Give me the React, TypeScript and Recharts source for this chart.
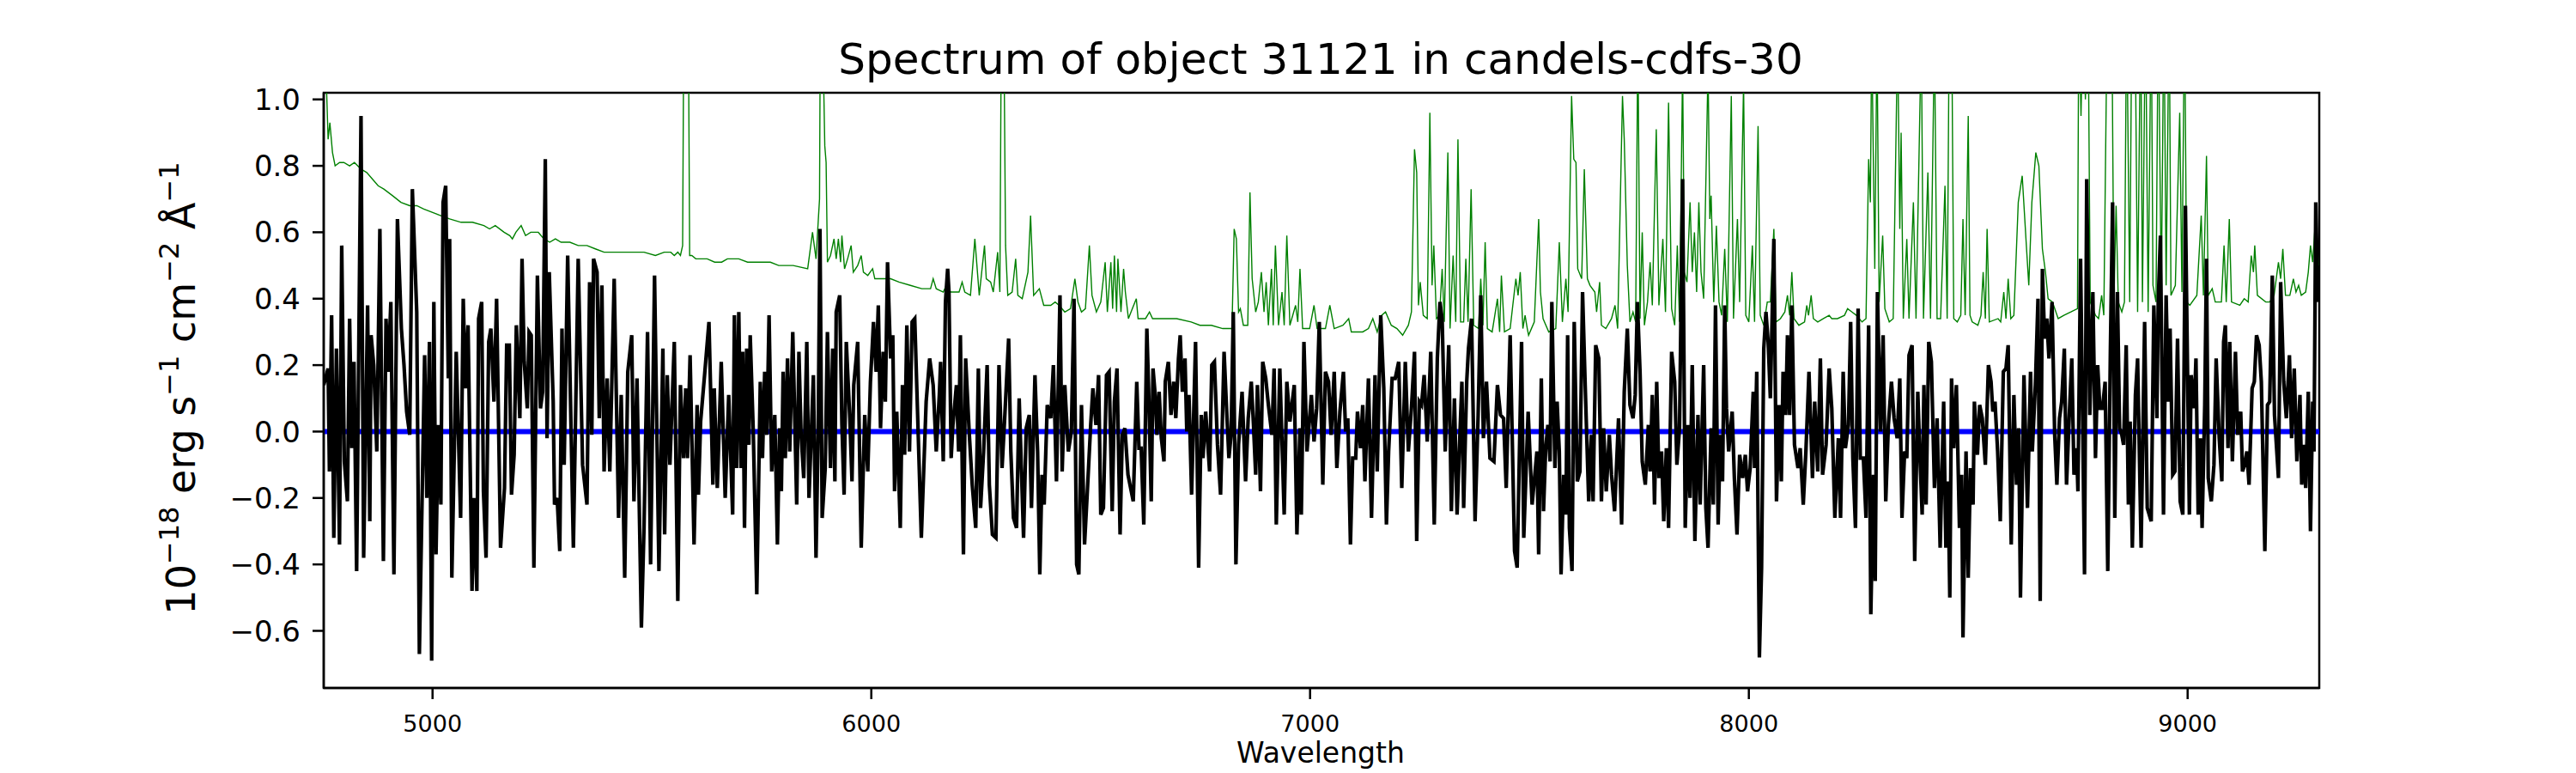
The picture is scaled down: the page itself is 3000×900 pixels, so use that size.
import React from 'react';
import { LineChart, Line, XAxis, YAxis, ReferenceArea } from 'recharts';

const specWave = [
  4752, 4762, 4765, 4770, 4775, 4781, 4788, 4793, 4799, 4806,
  4811, 4816, 4821, 4827, 4837, 4843, 4852, 4857, 4860, 4866,
  4873, 4880, 4888, 4894, 4899, 4905, 4912, 4920, 4929, 4935,
  4941, 4948, 4954, 4964, 4970, 4982, 4987, 4993, 4998, 5003,
  5008, 5013, 5019, 5024, 5030, 5036, 5039, 5044, 5054, 5064,
  5070, 5075, 5081, 5090, 5094, 5101, 5105, 5112, 5116, 5122,
  5128, 5133, 5140, 5146, 5155, 5164, 5169, 5175, 5180, 5186,
  5191, 5199, 5204, 5209, 5216, 5220, 5225, 5231, 5239, 5246,
  5251, 5257, 5261, 5266, 5275, 5278, 5284, 5290, 5295, 5300,
  5308, 5321, 5332, 5342, 5352, 5358, 5363, 5367, 5375, 5380,
  5386, 5391, 5398, 5404, 5414, 5424, 5430, 5438, 5445, 5454,
  5459, 5466, 5476, 5482, 5490, 5497, 5506, 5516, 5525, 5529,
  5535, 5541, 5551, 5559, 5565, 5572, 5577, 5581, 5587, 5596,
  5603, 5606, 5611, 5620, 5630, 5639, 5642, 5649, 5658,
  5667, 5675, 5684, 5688, 5693, 5698, 5703, 5707, 5711, 5716,
  5721, 5724, 5731, 5739, 5747, 5752, 5757, 5762, 5767, 5773,
  5780, 5786, 5791, 5795, 5799, 5804, 5809, 5814, 5821, 5830,
  5835, 5840, 5846, 5853, 5858, 5868, 5874, 5879, 5883, 5888,
  5895, 5900, 5907, 5912, 5917, 5920, 5928, 5933, 5938, 5943,
  5951, 5956, 5960, 5969, 5977, 5985, 5992, 5998, 6005, 6011,
  6016, 6021, 6027, 6032, 6037, 6044, 6049, 6053, 6058, 6066,
  6071, 6076, 6081, 6087, 6093, 6099, 6104, 6114, 6125, 6133,
  6141, 6148, 6155, 6158, 6164, 6169, 6174, 6177, 6182, 6186,
  6194, 6199, 6203, 6210, 6215, 6223, 6230, 6238, 6244, 6249,
  6256, 6264, 6269, 6276, 6284, 6291, 6298, 6304, 6313, 6318,
  6324, 6331, 6337, 6347, 6353, 6360, 6365, 6373, 6379, 6384,
  6389, 6394, 6401, 6409, 6415, 6422, 6430, 6435, 6441, 6449,
  6456, 6462, 6468, 6473, 6479, 6486, 6492, 6500, 6505, 6512,
  6518, 6523, 6529, 6536, 6542, 6549, 6554, 6560, 6567, 6572,
  6578, 6585,
  6597, 6605, 6610, 6615, 6621, 6628, 6632, 6638, 6642, 6647,
  6651, 6656, 6661, 6667, 6670, 6677, 6683, 6689, 6694, 6700,
  6704, 6709, 6715, 6719, 6724, 6730, 6739, 6746, 6752, 6756,
  6762, 6771, 6776, 6782, 6789, 6796, 6804, 6810, 6815, 6820,
  6825, 6831, 6837, 6845, 6853, 6859, 6866, 6871, 6876, 6880,
  6887, 6892, 6899, 6905, 6913, 6918, 6923, 6931, 6941, 6947,
  6954, 6964, 6970, 6977, 6980, 6986, 6993, 7003, 7009, 7015,
  7021, 7029, 7035, 7042, 7048, 7055, 7061, 7068, 7076, 7081,
  7086, 7092, 7097, 7104, 7108, 7115, 7120, 7125, 7133, 7140,
  7148, 7153, 7161, 7168, 7174, 7179, 7187, 7194, 7202, 7209,
  7217, 7224, 7231, 7238, 7243, 7249, 7254, 7260, 7267, 7275,
  7283, 7290, 7296, 7301, 7308, 7316, 7322, 7329, 7335, 7342,
  7346, 7350, 7357, 7361, 7368, 7376, 7383, 7389, 7395, 7402,
  7410, 7419, 7427, 7434, 7441, 7447, 7456, 7466, 7472, 7482,
  7487, 7497, 7506, 7517,
  7521, 7527, 7532, 7537, 7542, 7547, 7551, 7558, 7563, 7568,
  7572, 7578, 7583, 7587, 7591, 7597, 7602, 7609, 7615, 7621,
  7627, 7635, 7641, 7645, 7651, 7658, 7664, 7669, 7675, 7682,
  7687, 7694, 7703, 7710, 7716, 7723, 7729, 7736, 7741, 7746,
  7752, 7757, 7764, 7771, 7775, 7780, 7785, 7790, 7795, 7801,
  7806, 7812, 7817, 7824, 7831, 7836, 7842, 7849, 7855, 7861,
  7866, 7871, 7877, 7884, 7889, 7897, 7902, 7907, 7914, 7919,
  7924, 7930, 7935, 7940, 7945, 7949, 7954, 7962, 7967, 7973,
  7979, 7986, 7992, 7997, 8003, 8010, 8013, 8018, 8024, 8029,
  8034, 8039, 8044, 8049, 8057, 8063, 8069, 8074, 8078, 8084,
  8088, 8093, 8098, 8104, 8112, 8117, 8124, 8130, 8137, 8145,
  8150, 8157, 8163, 8168, 8176, 8183, 8189, 8196, 8204, 8209,
  8215, 8220, 8227, 8232, 8237, 8243, 8249, 8254, 8261, 8267,
  8273, 8278, 8284, 8288, 8293, 8300, 8306, 8312, 8318, 8325,
  8331, 8338, 8344, 8349, 8355, 8360, 8365, 8372, 8378, 8385,
  8390, 8395, 8399, 8404, 8410, 8416, 8423, 8429, 8436,
  8444, 8449, 8454, 8458, 8462, 8467, 8473, 8480, 8485, 8488,
  8495, 8500, 8505, 8511, 8514, 8521, 8526, 8532, 8539, 8546,
  8552, 8556, 8561, 8567, 8573, 8580, 8586, 8591, 8598, 8604,
  8610, 8615, 8619, 8627, 8635, 8642, 8646, 8653, 8659, 8664,
  8669, 8674, 8679, 8684, 8691, 8697, 8702, 8708, 8713, 8719,
  8724, 8730, 8736, 8741, 8747, 8750, 8756, 8761, 8765, 8770,
  8777, 8784, 8790, 8795, 8800, 8806, 8812, 8818, 8824, 8829,
  8834, 8840, 8845, 8850, 8854, 8860, 8865, 8869, 8874, 8881,
  8886, 8894, 8902, 8908, 8917, 8923, 8930, 8933, 8938, 8945,
  8951, 8956, 8960, 8966, 8971, 8977, 8983, 8989, 8995, 9004,
  9008, 9015, 9019, 9024, 9029, 9033, 9039, 9043, 9047, 9054,
  9060, 9065, 9072, 9078, 9082, 9086, 9092, 9096, 9102, 9109,
  9114, 9121, 9125, 9130, 9135, 9140, 9147, 9152, 9157, 9163,
  9168, 9176, 9182, 9187, 9193, 9198, 9207, 9212, 9219, 9225,
  9232, 9237, 9243, 9249, 9256, 9260, 9266, 9269, 9275, 9280,
  9285, 9288, 9292, 9297,
];

const specFlux = [
  0.14, 0.19, -0.12, 0.35, -0.32, 0.25, -0.34, 0.56, -0.09, -0.21,
  0.34, -0.05, 0.21, -0.42, 0.95, -0.38, 0.38, -0.27, 0.29, 0.20,
  -0.06, 0.61, -0.39, 0.34, 0.18, 0.39, -0.43, 0.64, 0.31, 0.20,
  0.06, -0.01, 0.73, 0.36, -0.67, 0.23, -0.20, 0.27, -0.69, 0.39,
  -0.37, 0.02, -0.22, 0.69, 0.74, 0.16, 0.58, -0.44, 0.24, -0.26,
  0.40, 0.13, 0.32, -0.48, -0.20, -0.48, 0.34, 0.39, -0.18, -0.38,
  0.27, 0.31, 0.09, 0.40, -0.35, -0.17, 0.26, 0.26, -0.19, -0.07,
  0.32, 0.04, 0.52, 0.21, 0.07, 0.30, 0.29, -0.41, 0.47, 0.07,
  0.12, 0.82, -0.02, 0.48, 0.09, -0.22, -0.20, -0.36, 0.31, -0.10,
  0.53, -0.35, 0.52, -0.10, -0.22, 0.45, -0.01, 0.52, 0.48, 0.04,
  0.44, -0.12, 0.16, -0.12, 0.46, -0.26, 0.11, -0.44, 0.18, 0.29,
  -0.21, 0.16, -0.59, -0.29, 0.30, -0.40, 0.47, -0.42, 0.25, -0.31,
  0.17, -0.10, 0.27, -0.51, 0.14, -0.08, 0.13, -0.08, 0.23, -0.34,
  0.08, -0.19, 0.03, 0.17, 0.33, -0.16, 0.13, -0.17, 0.21,
  -0.20, 0.11, -0.25, 0.35, -0.11, 0.36, -0.11, 0.24, -0.29, 0.25,
  -0.04, 0.29, 0.00, -0.49, 0.15, -0.08, 0.18, -0.01, 0.35, -0.12,
  0.05, -0.34, 0.01, -0.18, 0.18, -0.08, 0.22, -0.06, 0.30, -0.22,
  0.24, -0.01, -0.14, 0.27, -0.20, 0.17, -0.38, 0.01, 0.61, -0.26,
  -0.11, 0.30, -0.11, 0.25, -0.15, 0.36, 0.41, 0.02, -0.19, 0.27,
  0.04, -0.15, 0.14, 0.27, -0.35, 0.05, -0.12, 0.15, 0.33, 0.18,
  0.38, 0.01, 0.24, 0.09, 0.51, 0.22, 0.29, -0.18, 0.06, -0.29,
  0.14, -0.07, 0.32, -0.06, 0.33, 0.34, 0.12, -0.32, 0.09, 0.22,
  0.14, -0.06, 0.11, 0.21, -0.09, 0.39, 0.49, 0.42, -0.08, 0.02,
  0.14, -0.06, 0.29, -0.37, 0.22, 0.00, -0.16, -0.29, 0.19, -0.23,
  -0.06, 0.20, -0.16, -0.31, -0.32, 0.20, -0.11, 0.04, 0.28, -0.06,
  -0.26, -0.29, 0.10, -0.32, 0.01, 0.05, -0.23, 0.17, -0.06, -0.43,
  -0.13, -0.22, 0.08, 0.04, 0.20, -0.15, 0.41, -0.12, 0.14, -0.06,
  0.00, 0.40, -0.40, -0.43, 0.08, -0.34, -0.19, 0.02, 0.13, 0.02,
  0.17, -0.25, -0.23, 0.17, 0.18, -0.24, 0.09, 0.19, -0.31, -0.01,
  0.01, -0.13,
  -0.21, 0.15, -0.05, -0.05, -0.28, 0.31, 0.13, -0.21, 0.19, 0.11,
  -0.01, 0.12, -0.02, -0.09, 0.15, 0.21, 0.05, 0.15, 0.04, 0.22,
  0.29, 0.12, 0.22, 0.00, 0.11, -0.19, 0.27, -0.41, 0.05, -0.08,
  0.06, -0.12, 0.20, 0.21, -0.04, -0.19, 0.24, 0.06, -0.08, -0.01,
  0.36, -0.40, -0.04, 0.12, -0.15, 0.04, 0.15, 0.02, -0.13, 0.14,
  -0.18, 0.21, 0.16, 0.08, -0.01, 0.19, -0.28, 0.19, -0.25, 0.15,
  0.03, 0.14, -0.31, 0.01, -0.25, 0.27, -0.06, 0.11, -0.03, 0.07,
  0.33, -0.16, 0.18, 0.15, -0.01, 0.18, -0.11, 0.06, 0.18, 0.00,
  0.04, -0.34, -0.08, -0.08, 0.06, -0.05, 0.08, -0.15, 0.16, -0.26,
  0.17, -0.12, 0.35, 0.13, -0.28, -0.06, 0.16, 0.16, 0.21, -0.17,
  0.21, -0.06, 0.07, 0.24, -0.33, 0.09, 0.08, 0.17, -0.03, 0.24,
  -0.28, 0.22, 0.39, 0.34, -0.06, 0.26, -0.24, 0.10, -0.25, 0.01,
  0.15, -0.23, 0.15, 0.25, 0.34, -0.27, 0.05, 0.41, -0.02, 0.15,
  -0.08, -0.09, 0.14, 0.05, 0.04, -0.17, 0.29, -0.36, -0.41, 0.27,
  -0.32, 0.06, -0.22, -0.06,
  -0.37, 0.16, -0.24, -0.05, 0.02, -0.09, 0.39, -0.11, 0.09, -0.06,
  -0.43, -0.13, -0.25, 0.29, -0.29, -0.42, 0.33, -0.15, -0.12, 0.42,
  0.14, -0.21, -0.01, -0.21, 0.26, 0.22, -0.21, 0.01, -0.18, -0.01,
  -0.13, -0.24, 0.04, -0.28, 0.12, 0.31, 0.08, 0.04, 0.11, 0.39,
  0.18, -0.09, -0.16, 0.02, -0.12, 0.11, -0.22, 0.15, -0.14, -0.06,
  -0.27, -0.05, -0.29, 0.24, 0.15, -0.10, 0.01, 0.76, -0.29, 0.02,
  -0.20, 0.20, -0.33, 0.05, -0.22, 0.20, -0.23, -0.35, 0.01, -0.22,
  0.38, -0.28, -0.01, -0.15, 0.38, 0.07, -0.06, 0.06, -0.14, -0.31,
  -0.07, -0.14, -0.07, -0.18, -0.11, 0.12, -0.11, 0.18, -0.68, -0.41,
  0.25, 0.36, 0.27, 0.10, 0.58, -0.21, 0.08, -0.15, 0.18, 0.05,
  0.29, 0.05, 0.38, -0.04, -0.11, -0.05, -0.22, -0.06, 0.18, -0.14,
  0.09, -0.12, 0.22, -0.13, -0.04, 0.19, 0.07, -0.26, -0.02, -0.26,
  0.18, -0.05, 0.02, 0.33, -0.08, -0.29, 0.37, -0.08, -0.08, -0.26,
  0.32, -0.55, -0.13, -0.45, 0.42, 0.00, 0.29, -0.21, 0.02, 0.15,
  0.04, -0.02, 0.16, -0.26, -0.06, -0.08, 0.23, 0.26, -0.39, 0.12,
  -0.08, -0.25, 0.14, -0.22, 0.27, 0.21, -0.17, 0.04, -0.35,
  0.09, -0.35, -0.15, -0.50, 0.16, -0.05, 0.14, -0.29, -0.13, -0.62,
  -0.06, -0.44, -0.11, -0.22, 0.09, -0.07, 0.08, 0.04, -0.10, 0.20,
  0.15, 0.06, 0.09, -0.06, -0.27, 0.18, 0.19, 0.26, -0.34, 0.11,
  -0.16, 0.01, -0.50, 0.17, -0.23, 0.18, -0.06, 0.14, 0.40, -0.51,
  0.49, 0.28, 0.34, 0.22, 0.39, -0.01, -0.16, 0.04, 0.09, 0.25,
  -0.16, 0.04, 0.22, -0.13, -0.05, -0.18, 0.52, 0.01, -0.43, 0.76,
  0.05, 0.42, -0.08, 0.20, 0.07, 0.07, 0.15, -0.42, 0.25, 0.69,
  -0.26, 0.42, 0.01, -0.01, -0.04, 0.26, -0.22, 0.03, -0.35, 0.11,
  0.22, -0.35, 0.33, -0.23, -0.27, 0.38, 0.04, 0.39, 0.59, -0.25,
  0.41, 0.09, 0.31, -0.13, -0.12, 0.28, -0.21, -0.25, 0.68, -0.25,
  0.17, 0.07, 0.22, -0.25, -0.02, -0.29, 0.08, 0.52, -0.14, -0.21,
  -0.10, 0.22, -0.02, -0.15, 0.27, 0.32, -0.05, 0.27, -0.09, 0.24,
  -0.01, 0.06, -0.12, -0.10, -0.06, -0.16, 0.13, 0.15, 0.29, 0.26,
  0.15, -0.36, 0.08, 0.09, 0.47, 0.05, -0.14, 0.45, 0.15, 0.04,
  0.23, -0.02, 0.19, -0.09, 0.11, -0.16, -0.04, -0.17, 0.12, -0.30,
  0.09, -0.06, 0.69, 0.39,
];

// error / contamination spectrum (green), sky lines run off the top
const errWave = [
  4752, 4758, 4762, 4766, 4772, 4778, 4788, 4798, 4811, 4822,
  4837, 4850, 4863, 4876, 4889, 4909, 4928, 4948, 4964, 4980,
  4999, 5019, 5039, 5065, 5091, 5117, 5130, 5143, 5163, 5176,
  5182, 5190, 5202, 5212, 5224, 5241, 5254, 5267, 5280, 5293,
  5313, 5332, 5352, 5371, 5391, 5411, 5430, 5456, 5482, 5508,
  5528, 5543, 5551, 5559, 5565, 5570, 5574, 5578, 5582, 5586,
  5591, 5600, 5611, 5626, 5643,
  5659, 5672, 5698, 5718, 5744, 5770, 5789, 5822, 5855, 5866,
  5874, 5882, 5884, 5888, 5894, 5897, 5900, 5907, 5915, 5920,
  5925, 5930, 5933, 5939, 5946, 5954, 5959, 5969, 5977, 5982,
  5992, 6003, 6008, 6024, 6044, 6063, 6089, 6115, 6135, 6141,
  6148, 6164, 6171, 6181, 6200, 6207, 6213, 6226, 6236, 6246,
  6258, 6262, 6272, 6278, 6288, 6293, 6297, 6301, 6306, 6311,
  6321, 6329, 6334, 6344, 6357, 6363, 6370, 6383, 6393, 6409,
  6419, 6428, 6441, 6454, 6464, 6471, 6479, 6488, 6497, 6503,
  6513, 6523, 6533, 6538, 6546, 6550, 6554, 6559, 6562, 6569,
  6575,
  6579, 6586, 6595, 6604, 6608, 6625, 6634, 6641, 6667, 6696,
  6729, 6749, 6775, 6801, 6822, 6827, 6832, 6837, 6841, 6848,
  6858, 6863, 6868, 6876, 6882, 6889, 6895, 6900, 6905, 6912,
  6916, 6921, 6928, 6936, 6941, 6947, 6954, 6967, 6972, 6977,
  6983, 6999, 7009, 7016, 7035, 7045, 7055, 7075, 7088, 7094,
  7120, 7133, 7143, 7153, 7163, 7172, 7185, 7198, 7211, 7224,
  7231, 7238, 7243, 7247, 7251, 7258, 7267, 7273, 7278, 7282,
  7288, 7295, 7301, 7306, 7314, 7319, 7326, 7332, 7337, 7343,
  7350, 7355, 7360, 7367, 7373, 7384, 7389, 7394, 7399, 7404,
  7415, 7427, 7432, 7436, 7443, 7456, 7462, 7469, 7474, 7479,
  7485, 7490, 7495,
  7498, 7511, 7521, 7525, 7531, 7544, 7560, 7568, 7575, 7583,
  7588, 7596, 7601, 7606, 7610, 7619, 7625, 7632, 7638, 7649,
  7653, 7660, 7664, 7674, 7687, 7695, 7701, 7712, 7716, 7723,
  7729, 7736, 7742, 7747, 7752, 7757, 7762, 7769, 7775, 7780,
  7789, 7795, 7804, 7810, 7817, 7824, 7831, 7837, 7842, 7849,
  7853, 7859, 7866, 7871, 7876, 7881, 7886, 7891, 7897, 7907,
  7911, 7914, 7920, 7926, 7932, 7938, 7945, 7951, 7960, 7965,
  7974, 7979, 7988, 7993, 8000, 8008, 8013, 8021, 8026, 8034,
  8042, 8049, 8057, 8062, 8072, 8082, 8088, 8093, 8098, 8103,
  8114, 8127, 8132, 8136, 8142, 8147, 8157, 8170, 8183, 8189,
  8202, 8218, 8225, 8235, 8245, 8258, 8267, 8273, 8277, 8280,
  8287, 8292, 8297, 8305, 8310, 8320, 8329, 8339, 8344, 8347,
  8352, 8360, 8365, 8375, 8381, 8393, 8398, 8408, 8414, 8423,
  8429, 8437,
  8447, 8452, 8457, 8462, 8467, 8475, 8483, 8488, 8493, 8500,
  8504, 8509, 8522, 8529, 8534, 8539, 8543, 8548, 8568, 8574,
  8581, 8586, 8591, 8597, 8604, 8614, 8623, 8632, 8638, 8645,
  8654, 8661, 8669, 8676, 8682, 8692, 8705, 8718, 8734, 8749,
  8752, 8757, 8762, 8767, 8773, 8778, 8790, 8797, 8804, 8809,
  8817, 8822, 8827, 8832, 8837, 8842, 8850, 8856, 8861, 8868,
  8873, 8880, 8886, 8893, 8897, 8904, 8910, 8917, 8921, 8928,
  8933, 8940, 8946, 8951, 8958, 8962, 8972, 8982, 8987, 8993,
  8998, 9005, 9021, 9031, 9036, 9043, 9047, 9056, 9063, 9077,
  9083, 9088, 9095, 9100, 9119, 9129, 9138, 9145, 9150, 9153,
  9159, 9178, 9187, 9197, 9207, 9212, 9217, 9223, 9233, 9241,
  9247, 9253, 9259, 9269, 9275, 9280, 9285, 9292, 9298,
];

const errFlux = [
  1.15, 1.05, 0.88, 0.93, 0.84, 0.80, 0.81, 0.81, 0.80, 0.81,
  0.79, 0.78, 0.76, 0.74, 0.73, 0.71, 0.69, 0.68, 0.68, 0.67,
  0.66, 0.65, 0.64, 0.63, 0.63, 0.62, 0.61, 0.62, 0.60, 0.59,
  0.58, 0.60, 0.62, 0.59, 0.60, 0.60, 0.58, 0.57, 0.58, 0.57,
  0.57, 0.56, 0.56, 0.55, 0.54, 0.54, 0.54, 0.54, 0.54, 0.53,
  0.54, 0.54, 0.53, 0.54, 0.53, 0.56, 1.6, 2.0, 1.5, 0.53,
  0.53, 0.52, 0.52, 0.52, 0.51,
  0.51, 0.52, 0.52, 0.51, 0.51, 0.51, 0.50, 0.50, 0.49, 0.60,
  0.52, 0.70, 1.3, 1.3, 0.86, 0.81, 0.51, 0.53, 0.58, 0.52,
  0.58, 0.51, 0.59, 0.49, 0.52, 0.56, 0.48, 0.50, 0.53, 0.48,
  0.47, 0.49, 0.46, 0.46, 0.46, 0.45, 0.44, 0.43, 0.43, 0.46,
  0.43, 0.42, 0.44, 0.42, 0.42, 0.45, 0.42, 0.41, 0.58, 0.41,
  0.56, 0.46, 0.45, 0.42, 0.54, 0.42, 1.4, 1.4, 0.56, 0.41,
  0.42, 0.52, 0.41, 0.40, 0.48, 0.65, 0.41, 0.43, 0.38, 0.38,
  0.39, 0.38, 0.36, 0.37, 0.46, 0.39, 0.36, 0.37, 0.56, 0.41,
  0.36, 0.39, 0.51, 0.36, 0.51, 0.37, 0.53, 0.36, 0.52, 0.36,
  0.49,
  0.42, 0.34, 0.37, 0.40, 0.34, 0.34, 0.36, 0.34, 0.34, 0.34,
  0.33, 0.32, 0.32, 0.31, 0.31, 0.61, 0.58, 0.36, 0.37, 0.32,
  0.32, 0.72, 0.46, 0.36, 0.39, 0.48, 0.36, 0.45, 0.32, 0.49,
  0.32, 0.56, 0.32, 0.42, 0.32, 0.59, 0.32, 0.38, 0.33, 0.49,
  0.31, 0.31, 0.38, 0.31, 0.31, 0.38, 0.31, 0.32, 0.34, 0.30,
  0.30, 0.31, 0.34, 0.30, 0.35, 0.36, 0.32, 0.31, 0.29, 0.32,
  0.36, 0.85, 0.78, 0.38, 0.45, 0.35, 0.34, 0.96, 0.44, 0.56,
  0.34, 0.35, 0.49, 0.33, 0.84, 0.31, 0.53, 0.33, 0.88, 0.33,
  0.33, 0.52, 0.33, 0.73, 0.32, 0.31, 0.46, 0.32, 0.57, 0.31,
  0.30, 0.40, 0.30, 0.47, 0.30, 0.31, 0.38, 0.46, 0.41, 0.48,
  0.31, 0.35, 0.31,
  0.29, 0.33, 0.64, 0.42, 0.34, 0.30, 0.31, 0.57, 0.33, 0.46,
  0.36, 1.01, 0.82, 0.81, 0.49, 0.46, 0.79, 0.46, 0.44, 0.42,
  0.36, 0.45, 0.32, 0.31, 0.34, 0.38, 0.31, 1.01, 0.88, 0.50,
  0.33, 0.36, 0.33, 1.2, 0.34, 0.60, 0.32, 0.39, 0.51, 0.38,
  0.91, 0.38, 0.58, 0.36, 0.99, 0.37, 0.32, 0.56, 0.33, 1.1,
  0.48, 0.45, 0.69, 0.48, 0.60, 0.42, 0.69, 0.48, 0.40, 1.1,
  0.64, 0.71, 0.39, 0.62, 0.39, 0.35, 0.55, 0.33, 1.01, 0.34,
  0.64, 0.39, 1.05, 0.35, 0.33, 0.56, 0.33, 0.92, 0.35, 0.32,
  0.39, 0.39, 0.61, 0.33, 0.34, 0.36, 0.41, 0.35, 0.48, 0.34,
  0.32, 0.33, 0.38, 0.35, 0.41, 0.34, 0.33, 0.34, 0.35, 0.34,
  0.34, 0.35, 0.37, 0.36, 0.35, 0.33, 0.34, 0.82, 0.69, 1.2,
  0.49, 1.2, 0.39, 0.59, 0.37, 0.33, 0.34, 1.2, 0.61, 0.90,
  0.34, 0.58, 0.34, 0.69, 0.34, 1.2, 0.34, 0.78, 0.34, 1.2,
  0.34, 0.34,
  0.74, 0.34, 1.3, 1.3, 0.34, 0.33, 0.35, 0.64, 0.35, 0.95,
  0.35, 0.33, 0.32, 0.35, 0.48, 0.34, 0.61, 0.33, 0.34, 0.33,
  0.42, 0.34, 0.46, 0.34, 0.35, 0.69, 0.77, 0.57, 0.44, 0.69,
  0.84, 0.80, 0.55, 0.48, 0.40, 0.39, 0.34, 0.35, 0.36, 0.37,
  1.3, 0.95, 1.3, 1.0, 1.3, 0.39, 0.35, 0.34, 0.41, 0.35,
  1.3, 1.3, 1.3, 0.39, 0.68, 0.39, 0.36, 0.39, 1.3, 0.39,
  1.3, 1.3, 0.36, 1.3, 0.39, 1.3, 0.36, 1.3, 0.44, 0.39,
  1.3, 0.41, 1.3, 0.44, 1.3, 0.41, 0.44, 0.96, 0.42, 1.3,
  0.39, 0.38, 0.41, 0.65, 0.41, 0.83, 0.41, 0.43, 0.39, 0.39,
  0.56, 0.39, 0.64, 0.39, 0.38, 0.40, 0.39, 0.53, 0.48, 0.56,
  0.41, 0.39, 0.39, 0.41, 0.51, 0.46, 0.55, 0.41, 0.41, 0.46,
  0.42, 0.44, 0.41, 0.42, 0.48, 0.56, 0.51, 0.65, 0.50,
];

// model (blue), flat at zero
const modelWave = [4752, 9300];
const modelFlux = [0, 0];

const xTicks = [5000, 6000, 7000, 8000, 9000];
const yTicks = [-0.6, -0.4, -0.2, 0.0, 0.2, 0.4, 0.6, 0.8, 1.0];
const xDomain = [4752, 9300];
const yDomain = [-0.772, 1.02];

const toPoints = (w: number[], f: number[]) =>
  w.slice(0, Math.min(w.length, f.length)).map((x, i) => ({ wave: x, flux: f[i] }));

const specData = toPoints(specWave, specFlux);
const errData = toPoints(errWave, errFlux);
const modelData = toPoints(modelWave, modelFlux);

const FONT = '"DejaVu Sans", sans-serif';

const fmtY = (v: number) => (v < 0 ? '\u2212' : '') + Math.abs(v).toFixed(1);

const App: React.FC = () => {
  return (
    <div style={{ position: 'relative', width: 3000, height: 900, background: '#fff', fontFamily: FONT }}>
      <style>{'body{margin:0}'}</style>
      <LineChart
        width={3000}
        height={900}
        margin={{ top: 108, right: 299, bottom: 39, left: 277 }}
      >
        <XAxis
          dataKey="wave"
          type="number"
          domain={xDomain}
          ticks={xTicks}
          allowDataOverflow
          height={60}
          tickSize={13}
          tickMargin={19}
          tick={{ fill: '#000', fontSize: 27, fontFamily: FONT }}
          tickLine={{ stroke: '#000', strokeWidth: 2.5 }}
          axisLine={{ stroke: '#000', strokeWidth: 2.5 }}
        />
        <YAxis
          type="number"
          domain={yDomain}
          ticks={yTicks}
          allowDataOverflow
          width={100}
          tickSize={13}
          tickMargin={14}
          tickFormatter={fmtY}
          tick={{ fill: '#000', fontSize: 34, fontFamily: FONT }}
          tickLine={{ stroke: '#000', strokeWidth: 2.5 }}
          axisLine={{ stroke: '#000', strokeWidth: 2.5 }}
        />
        <Line
          data={errData}
          dataKey="flux"
          type="linear"
          stroke="#008000"
          strokeWidth={1.4}
          dot={false}
          activeDot={false}
          isAnimationActive={false}
        />
        <Line
          data={modelData}
          dataKey="flux"
          type="linear"
          stroke="#0000ff"
          strokeWidth={6}
          dot={false}
          activeDot={false}
          isAnimationActive={false}
        />
        <Line
          data={specData}
          dataKey="flux"
          type="linear"
          stroke="#000000"
          strokeWidth={4.2}
          dot={false}
          activeDot={false}
          isAnimationActive={false}
        />
        <ReferenceArea
          x1={xDomain[0]}
          x2={xDomain[1]}
          y1={yDomain[0]}
          y2={yDomain[1]}
          fill="none"
          stroke="#000"
          strokeWidth={2.5}
          ifOverflow="visible"
        />
      </LineChart>
      <svg
        width={3000}
        height={900}
        style={{ position: 'absolute', left: 0, top: 0, pointerEvents: 'none' }}
      >
        <text x={1538} y={86} textAnchor="middle" fontSize={50} fontFamily={FONT} fill="#000">
          Spectrum of object 31121 in candels-cdfs-30
        </text>
        <text x={1538} y={888} textAnchor="middle" fontSize={33} fontFamily={FONT} fill="#000">
          Wavelength
        </text>
        <g transform="translate(227,452) rotate(-90)">
          <text x={0} y={0} textAnchor="middle" fontSize={46} fontFamily={FONT} fill="#000" style={{ whiteSpace: 'pre' }}>
            <tspan>10</tspan>
            <tspan fontSize={32} dy={-19}>{'\u221218'}</tspan>
            <tspan dy={19}>{' erg s'}</tspan>
            <tspan fontSize={32} dy={-19}>{'\u22121'}</tspan>
            <tspan dy={19}>{' cm'}</tspan>
            <tspan fontSize={32} dy={-19}>{'\u22122'}</tspan>
            <tspan dy={19}>{' \u00c5'}</tspan>
            <tspan fontSize={32} dy={-19}>{'\u22121'}</tspan>
          </text>
        </g>
      </svg>
    </div>
  );
};

export default App;
